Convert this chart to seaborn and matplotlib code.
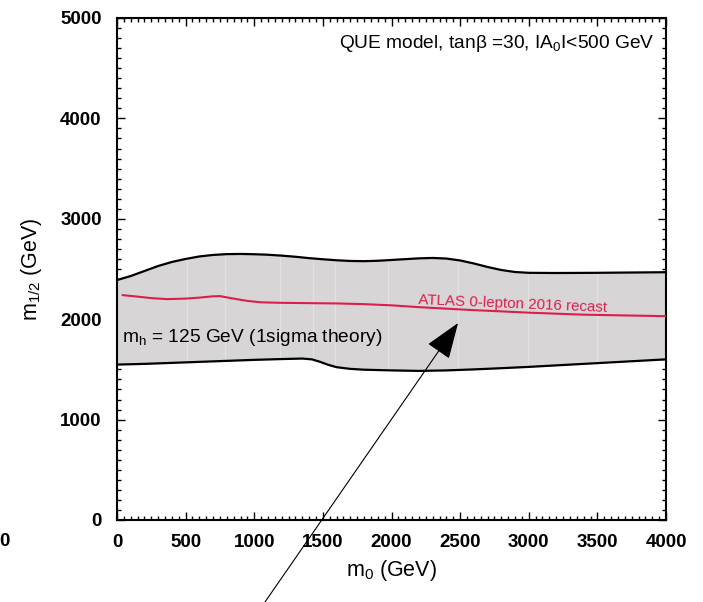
import matplotlib
matplotlib.use("Agg")
import matplotlib.pyplot as plt
from matplotlib.ticker import MultipleLocator
import numpy as np
import pandas as pd
import seaborn as sns

# --- data -------------------------------------------------------------
# m_h = 125 GeV band (1 sigma theory), upper and lower edges
upper_m0 = [0, 100, 200, 300, 400, 500, 600, 700, 800, 900, 1000, 1100, 1200,
            1300, 1400, 1500, 1600, 1700, 1800, 1900, 2000, 2100, 2200, 2300,
            2400, 2500, 2600, 2700, 2800, 2900, 3000, 3200, 3500, 4000]
upper_m12 = [2390, 2430, 2480, 2530, 2570, 2600, 2625, 2640, 2648, 2650, 2647,
             2642, 2633, 2622, 2608, 2597, 2587, 2580, 2578, 2582, 2590, 2598,
             2606, 2610, 2604, 2585, 2555, 2520, 2490, 2470, 2462, 2460, 2462,
             2468]

lower_m0 = [0, 200, 400, 600, 800, 1000, 1200, 1350, 1420, 1480, 1540, 1600,
            1700, 1800, 2000, 2200, 2400, 2600, 2800, 3000, 3200, 3400, 3600,
            3800, 4000]
lower_m12 = [1548, 1555, 1565, 1575, 1585, 1595, 1603, 1608, 1600, 1575, 1545,
             1522, 1505, 1497, 1490, 1485, 1490, 1500, 1512, 1525, 1540, 1555,
             1570, 1585, 1600]

# ATLAS 0-lepton 2016 recast limit
atlas_m0 = [40, 150, 250, 364, 500, 600, 700, 750, 850, 950, 1050, 1200, 1400,
            1600, 1800, 2000, 2200, 2400, 2600, 2800, 3000, 3200, 3400, 3600,
            3800, 4000]
atlas_m12 = [2240, 2225, 2210, 2200, 2205, 2215, 2228, 2230, 2205, 2182, 2168,
             2163, 2160, 2157, 2150, 2138, 2120, 2105, 2090, 2078, 2065, 2055,
             2045, 2040, 2035, 2030]

# faint rendering streaks inside the band
streak_m0 = [510, 790, 1190, 1430, 1590, 1975, 2485, 2995, 3500]

x_ticks = [0, 500, 1000, 1500, 2000, 2500, 3000, 3500, 4000]
y_ticks = [0, 1000, 2000, 3000, 4000, 5000]

# --- style ------------------------------------------------------------
sns.set_theme(style="ticks")
plt.rcParams["font.family"] = ["Liberation Sans", "DejaVu Sans"]
plt.rcParams["mathtext.fontset"] = "custom"
plt.rcParams["mathtext.rm"] = "Liberation Sans"
plt.rcParams["mathtext.it"] = "Liberation Sans:italic"
plt.rcParams["text.color"] = "black"
plt.rcParams["axes.labelcolor"] = "black"

fig = plt.figure(figsize=(7.03, 6.02), dpi=100)
ax = fig.add_axes([117 / 703, 1 - 520 / 602, 549 / 703, 502 / 602])

band_color = "#d8d5d7"
red = "#dc1f4a"

# band fill
grid = np.linspace(0, 4000, 801)
up_i = np.interp(grid, upper_m0, upper_m12)
lo_i = np.interp(grid, lower_m0, lower_m12)
band = ax.fill_between(grid, lo_i, up_i, color=band_color, lw=0, zorder=1)

# faint streaks clipped to the band
for xs in streak_m0:
    ln = ax.axvline(xs, color="white", lw=0.9, alpha=0.3, zorder=1.5)
    ln.set_clip_path(band.get_paths()[0], transform=ax.transData)

upper_df = pd.DataFrame({"m0": upper_m0, "m12": upper_m12})
lower_df = pd.DataFrame({"m0": lower_m0, "m12": lower_m12})
atlas_df = pd.DataFrame({"m0": atlas_m0, "m12": atlas_m12})

sns.lineplot(data=upper_df, x="m0", y="m12", ax=ax, color="black", lw=1.6,
             sort=False, zorder=3)
sns.lineplot(data=lower_df, x="m0", y="m12", ax=ax, color="black", lw=1.6,
             sort=False, zorder=3)
sns.lineplot(data=atlas_df, x="m0", y="m12", ax=ax, color=red, lw=1.5,
             sort=False, zorder=3)

ax.set_xlim(0, 4000)
ax.set_ylim(0, 5000)
ax.set_xticks(x_ticks)
ax.set_yticks(y_ticks)
ax.xaxis.set_minor_locator(MultipleLocator(50))
ax.yaxis.set_minor_locator(MultipleLocator(100))
ax.tick_params(which="both", direction="in", top=True, right=True,
               colors="black", labelcolor="black", width=1.0)
ax.tick_params(which="major", length=6, labelsize=13.5)
ax.tick_params(axis="x", which="major", pad=10)
ax.tick_params(axis="y", which="major", pad=11)
ax.tick_params(which="minor", length=3)
for lbl in ax.get_xticklabels() + ax.get_yticklabels():
    lbl.set_fontweight("bold")
for s in ax.spines.values():
    s.set_linewidth(1.5)
    s.set_color("black")

ax.set_xlabel(r"m$_0$ (GeV)", fontsize=15.5, labelpad=5)
ax.set_ylabel(r"m$_{1/2}$ (GeV)", fontsize=15.5, labelpad=12)

ax.text(0.98, 0.95, "QUE model, tan\u03b2 =30, IA$_0$I<500 GeV",
        transform=ax.transAxes, ha="right", va="center", fontsize=13.8)
ax.text(36, 1813, r"m$_\mathrm{h}$ = 125 GeV (1sigma theory)",
        ha="left", va="center", fontsize=13.8, zorder=4)
ax.text(2880, 2151, "ATLAS 0-lepton 2016 recast", color=red,
        ha="center", va="center", fontsize=10.9, rotation=-2.4, zorder=4)

# arrow pointing at the recast curve
ax.annotate("", xy=(2485, 1962), xytext=(265 / 703, 0.0),
            textcoords="figure fraction", annotation_clip=False,
            arrowprops=dict(arrowstyle="-|>,head_length=1.15,head_width=0.42",
                            color="black", lw=0.8, mutation_scale=20,
                            shrinkA=0, shrinkB=0), zorder=5)

# stray tick label from a neighbouring panel
fig.text(-1 / 703, 1 - 541 / 602, "0", ha="left", va="center",
         fontsize=13.5, fontweight="bold", color="black")

fig.savefig("out.png", dpi=100)
